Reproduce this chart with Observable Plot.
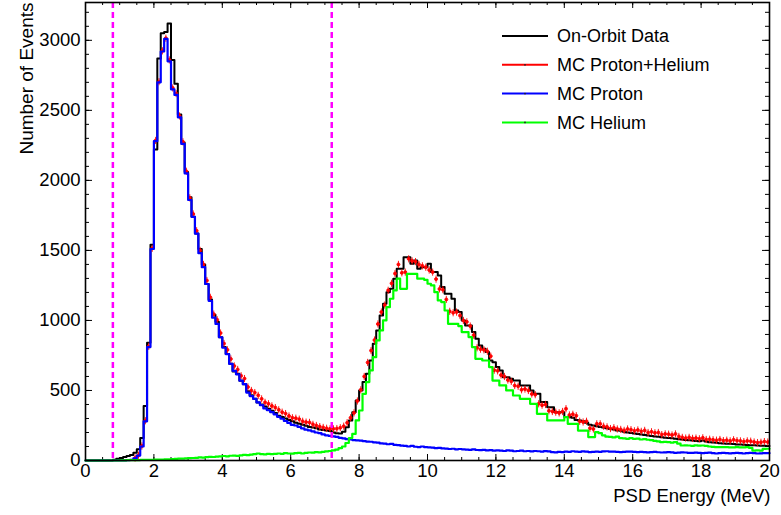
<!DOCTYPE html>
<html><head><meta charset="utf-8">
<script src="https://cdn.jsdelivr.net/npm/d3@7"></script>
<script src="https://cdn.jsdelivr.net/npm/@observablehq/plot@0.6"></script>
<style>html,body{margin:0;padding:0;background:#fff;} #chart{width:781px;height:515px;}</style>
</head><body><div id="chart"></div>
<script>
// Histogram binning: 200 bins of 0.1 MeV from 0 to 20 MeV
const binStart = 0;
const binWidth = 0.1;

// On-Orbit Data (black)
const dataCounts = [
  0,0,0,0,0,0,0,0,5,12,
  18,25,32,40,55,80,160,390,840,1540,
  2220,2870,3050,3060,3120,2860,2690,2470,2270,2060,
  1880,1740,1620,1510,1400,1260,1150,1040,990,880,
  810,760,690,635,620,570,545,495,465,440,
  415,400,385,370,355,340,320,310,300,290,
  280,270,262,255,248,240,235,230,222,218,
  215,210,200,195,192,205,238,286,345,429,
  500,560,619,714,833,929,1036,1119,1202,1226,
  1298,1369,1369,1452,1452,1405,1428,1369,1380,1380,
  1405,1345,1345,1320,1238,1190,1190,1155,1071,1060,
  1000,964,964,917,869,821,798,774,714,702,
  667,643,595,595,583,571,571,536,536,536,
  500,476,476,417,417,381,381,345,345,345,
  310,312,305,290,286,280,270,255,250,245,
  240,236,230,225,222,215,212,205,200,196,
  192,190,185,182,178,175,172,170,166,163,
  160,158,155,152,150,147,145,142,140,138,
  142,135,130,128,126,124,122,120,119,117,
  115,114,112,110,109,108,107,106,105,104
];

// MC Proton+Helium (red points)
const protonHeliumCounts = [
  0,0,0,0,0,0,0,0,0,0,
  0,0,4,7,18,38,104,284,815,1515,
  2285,2705,2925,3015,2860,2660,2620,2460,2275,2065,
  1875,1760,1640,1500,1400,1285,1165,1045,1005,910,
  835,790,725,675,650,605,585,525,500,485,
  465,440,415,405,390,378,362,345,335,318,
  305,302,295,280,274,272,258,250,242,236,
  230,226,226,228,234,245,270,305,340,425,
  505,600,700,785,860,975,1060,1110,1215,1265,
  1335,1400,1340,1345,1440,1425,1420,1400,1390,1380,
  1360,1345,1295,1225,1220,1150,1065,1055,1060,1035,
  1000,990,960,895,805,795,790,780,745,645,
  640,610,600,575,565,535,530,505,510,500,
  475,470,405,395,400,355,350,345,340,350,
  370,325,330,320,280,275,280,230,225,262,
  262,245,240,228,234,225,222,215,225,220,
  212,218,208,215,200,205,198,200,185,190,
  188,182,190,172,165,160,165,158,160,155,
  162,150,152,148,145,150,142,145,140,148,
  142,140,135,140,138,132,128,130,135,132
];

// MC Proton (blue)
const protonCounts = [
  0,0,0,0,0,0,0,0,0,0,
  0,0,2,5,15,35,100,280,810,1510,
  2280,2700,2920,3010,2850,2650,2610,2450,2260,2050,
  1860,1740,1620,1480,1380,1260,1140,1020,975,880,
  805,760,690,640,615,570,545,485,460,440,
  415,395,372,360,345,330,312,298,282,268,
  255,250,240,230,220,215,208,200,196,186,
  180,176,172,168,162,158,152,150,146,143,
  142,138,135,134,130,128,122,120,116,118,
  112,110,106,104,100,104,98,96,100,95,
  94,92,88,90,86,85,82,84,80,82,
  80,78,76,80,75,74,76,72,74,70,
  72,70,68,72,70,66,68,70,66,68,
  65,68,66,64,67,65,60,58,62,60,
  64,62,66,64,62,65,63,60,62,64,
  62,65,66,63,64,62,60,62,64,63,
  61,60,62,60,58,60,62,59,57,58,
  60,58,55,56,58,57,54,55,56,54,
  52,54,56,53,50,52,55,53,51,53,
  55,52,50,52,54,52,50,51,53,52
];

// MC Helium (green)
const heliumCounts = [
  0,0,0,0,0,0,0,0,0,0,
  1,1,2,2,3,3,4,4,5,5,
  6,6,7,8,9,10,11,13,14,15,
  17,18,19,22,21,24,26,25,28,30,
  32,30,34,35,33,37,40,38,42,45,
  50,46,44,48,45,47,50,48,52,50,
  49,52,55,50,54,57,56,60,58,62,
  65,68,72,78,88,100,125,160,190,286,
  357,476,560,643,738,857,929,1000,1095,1155,
  1214,1298,1226,1226,1333,1333,1333,1298,1298,1290,
  1262,1250,1202,1143,1131,1071,976,976,976,960,
  917,917,881,810,726,726,714,714,667,571,
  571,536,536,500,500,464,464,440,440,440,
  405,405,333,333,333,286,286,286,286,286,
  310,262,262,262,214,214,214,167,167,202,
  195,180,170,168,165,170,160,158,155,160,
  155,156,150,153,148,145,140,136,131,133,
  131,128,131,120,107,108,107,105,108,106,
  107,104,100,97,95,95,96,95,94,93,
  96,94,93,95,90,71,72,71,83,84
];

const cutEdges = [0.8, 7.2];
const xMajorTicks = [0, 2, 4, 6, 8, 10, 12, 14, 16, 18, 20];
const yMajorTicks = [0, 500, 1000, 1500, 2000, 2500, 3000];
const xDomain = [0, 20];
const yDomain = [0, 3270];
const legendLabels = ["On-Orbit Data", "MC Proton+Helium", "MC Proton", "MC Helium"];
const legendColors = ["#000000", "#ff0000", "#0000ff", "#00ff00"];

const W = 781, H = 515;
const mL = 85, mR = 12, mT = 2, mB = 55;
const fw = W - mL - mR, fh = H - mT - mB;
const xMinorTicks = d3.range(0, 20.0001, 0.5);
const yMinorTicks = d3.range(0, 3201, 100);
const FONT = "'Liberation Sans', Arial, sans-serif";

function stepPoints(counts) {
  const pts = counts.map((v, i) => ({x: binStart + i * binWidth, y: v}));
  pts.push({x: binStart + counts.length * binWidth, y: counts[counts.length - 1]});
  return pts;
}
function centerPoints(counts) {
  return counts.map((v, i) => ({x: binStart + (i + 0.5) * binWidth, y: v})).filter(d => d.y >= 10);
}
// marker with a small vertical error bar
const errSymbol = {
  draw(ctx, size) {
    const r = Math.sqrt(size / Math.PI);
    ctx.moveTo(r, 0);
    ctx.arc(0, 0, r, 0, 2 * Math.PI);
    ctx.closePath();
    ctx.moveTo(0, -2.4 * r);
    ctx.lineTo(0, 2.4 * r);
  }
};

const plot = Plot.plot({
  width: W, height: H,
  marginLeft: mL, marginRight: mR, marginTop: mT, marginBottom: mB,
  style: {fontFamily: FONT, fontSize: "18.5px", background: "white", color: "black"},
  x: {domain: xDomain},
  y: {domain: yDomain},
  marks: [
    Plot.axisX(xMajorTicks, {tickSize: 0, tickPadding: 3, label: null, tickFormat: d3.format("d")}),
    Plot.axisY(yMajorTicks, {tickSize: 0, tickPadding: 5, label: null, tickFormat: d3.format("d")}),
    // inward ticks (bottom, top, left, right)
    Plot.ruleX(xMajorTicks, {insetTop: fh - 6, stroke: "black", strokeWidth: 1}),
    Plot.ruleX(xMinorTicks, {insetTop: fh - 3, stroke: "black", strokeWidth: 1}),
    Plot.ruleX(xMajorTicks, {insetBottom: fh - 6, stroke: "black", strokeWidth: 1}),
    Plot.ruleX(xMinorTicks, {insetBottom: fh - 3, stroke: "black", strokeWidth: 1}),
    Plot.ruleY(yMajorTicks, {insetRight: fw - 7, stroke: "black", strokeWidth: 1}),
    Plot.ruleY(yMinorTicks, {insetRight: fw - 4, stroke: "black", strokeWidth: 1}),
    Plot.ruleY(yMajorTicks, {insetLeft: fw - 7, stroke: "black", strokeWidth: 1}),
    Plot.ruleY(yMinorTicks, {insetLeft: fw - 4, stroke: "black", strokeWidth: 1}),
    // histograms
    Plot.line(stepPoints(dataCounts), {x: "x", y: "y", curve: "step-after", stroke: "#000000", strokeWidth: 2}),
    Plot.dot(centerPoints(protonHeliumCounts), {x: "x", y: "y", r: 1.5, symbol: errSymbol, fill: "#ff0000", stroke: "#ff0000", strokeWidth: 0.9}),
    Plot.line(stepPoints(protonCounts), {x: "x", y: "y", curve: "step-after", stroke: "#0000ff", strokeWidth: 2.2}),
    Plot.line(stepPoints(heliumCounts), {x: "x", y: "y", curve: "step-after", stroke: "#00ff00", strokeWidth: 2.2}),
    Plot.ruleX(cutEdges, {stroke: "#ff00ff", strokeWidth: 2.5, strokeDasharray: "6,4"}),
    Plot.frame({stroke: "black", strokeWidth: 1.6}),
    // titles
    Plot.text(["PSD Energy (MeV)"], {text: d => d, frameAnchor: "bottom-right", dx: 1, dy: 41, textAnchor: "end", fontSize: 18.5}),
    Plot.text(["Number of Events"], {text: d => d, frameAnchor: "top-left", dx: -66, dy: 0, rotate: -90, textAnchor: "end", fontSize: 19})
  ]
});

// legend drawn inside the frame, top right
const svg = d3.select(plot);
const lg = svg.append("g").attr("font-family", FONT).attr("font-size", "18px").attr("text-anchor", "start");
legendLabels.forEach((lab, k) => {
  const yy = 36 + k * 28.8;
  lg.append("line").attr("x1", 502).attr("x2", 548).attr("y1", yy).attr("y2", yy)
    .attr("stroke", legendColors[k]).attr("stroke-width", 2);
  if (k > 0) lg.append("circle").attr("cx", 525).attr("cy", yy).attr("r", 0.9).attr("fill", "#222");
  lg.append("text").attr("x", 557).attr("y", yy).attr("dy", "0.35em").attr("fill", "black").text(lab);
});

document.getElementById("chart").appendChild(plot);
</script>
</body></html>
